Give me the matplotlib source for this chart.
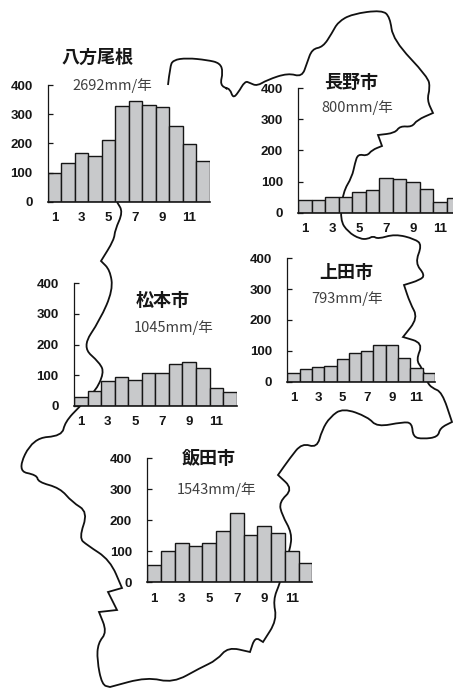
#!/usr/bin/env python3
"""Monthly rainfall bars for five Nagano stations, laid over the prefecture outline."""

import matplotlib
matplotlib.use('Agg')
import matplotlib.pyplot as plt
from matplotlib.patches import PathPatch
from matplotlib.path import Path

W, H = 453, 688
DPI = 100

MONTHS = list(range(1, 13))
MONTH_TICKS = [1, 3, 5, 7, 9, 11]
RAIN_TICKS = [0, 100, 200, 300, 400]

HAPPO = [99, 134, 168, 155, 210, 328, 346, 330, 323, 259, 198, 140]
NAGANO = [40, 40, 50, 49, 65, 72, 110, 107, 100, 75, 35, 46]
MATSUMOTO = [29, 47, 80, 95, 83, 108, 108, 137, 144, 123, 58, 46]
UEDA = [29, 40, 49, 52, 72, 94, 98, 120, 120, 77, 43, 29]
IIDA = [57, 100, 126, 118, 126, 165, 223, 151, 183, 158, 100, 61]

# outline traced in image pixels, one stroke (it breaks where it runs under the Happo chart)
OUTLINE_X = [168, 170, 173, 187, 207, 220, 223, 220, 228, 225, 230, 233, 238, 245, 250, 257, 267, 288, 302,
             307, 312, 323, 332, 338, 352, 382, 390, 393, 428, 430, 427, 433, 417, 412, 400, 395, 378, 382,
             372, 367, 358, 355, 352, 343, 340, 348, 360, 368, 373, 378, 395, 415, 422, 415, 425, 420, 404,
             410, 418, 403, 423, 416, 422, 427, 432, 442, 452, 440, 438, 423, 413, 412, 403, 377, 368, 343,
             330, 322, 317, 302, 290, 278, 293, 279, 282, 292, 290, 280, 273, 277, 263, 255, 250, 228, 217,
             200, 173, 147, 110, 102, 97, 98, 107, 99, 117, 108, 122, 110, 87, 79, 88, 72, 60, 38, 37, 17,
             33, 62, 65, 80, 95, 104, 100, 82, 100, 113, 110, 101, 114, 115, 123, 117]
OUTLINE_Y = [85, 67, 60, 58, 60, 63, 72, 85, 89, 88, 89, 98, 93, 81, 83, 86, 80, 73, 77,
             63, 49, 47, 33, 22, 14, 10, 17, 40, 77, 88, 100, 113, 120, 127, 126, 133, 135, 146,
             150, 156, 154, 163, 177, 192, 220, 232, 239, 239, 236, 239, 234, 239, 245, 263, 275, 280, 285,
             303, 318, 337, 343, 360, 368, 382, 388, 392, 422, 428, 437, 439, 437, 423, 422, 427, 417, 408,
             417, 430, 448, 443, 458, 475, 489, 502, 515, 533, 550, 583, 600, 620, 642, 637, 652, 647, 660,
             668, 683, 677, 687, 685, 660, 643, 632, 612, 610, 592, 588, 560, 545, 538, 512, 502, 488, 482, 475, 471,
             438, 436, 422, 406, 392, 373, 363, 347, 320, 290, 270, 261, 240, 230, 212, 202]
# points where the border kinks instead of curving
OUTLINE_KINKS = {(433, 113), (378, 135), (382, 146), (404, 285), (403, 337), (101, 261), (122, 588), (108, 592),
                 (278, 475), (263, 642), (452, 422), (99, 612), (117, 610), (250, 652), (110, 687)}

BAR = '#C8C9CB'
INK = '#161616'
NOTE = '#404040'
CJK = ['Noto Sans CJK JP', 'DejaVu Sans']
TICK_FONT = 'Liberation Sans'


def px_rect(left, right, y400, y0):
    """Pixel box to figure fractions."""
    return [left / W, 1 - y0 / H, (right - left) / W, (y0 - y400) / H]


def draw_outline(fig):
    ax = fig.add_axes([0, 0, 1, 1], zorder=0)
    ax.set_xlim(0, W)
    ax.set_ylim(H, 0)
    ax.axis('off')
    pts = []
    for p in zip(OUTLINE_X, OUTLINE_Y):
        pts.append(p)
        if p in OUTLINE_KINKS:
            pts.append(p)
    # quadratic curve through the midpoints, so the trace reads as a hand drawn border
    verts = [pts[0]]
    codes = [Path.MOVETO]
    for a, b in zip(pts[1:-1], pts[2:]):
        verts += [a, ((a[0] + b[0]) / 2, (a[1] + b[1]) / 2)]
        codes += [Path.CURVE3, Path.CURVE3]
    verts.append(pts[-1])
    codes.append(Path.LINETO)
    ax.add_patch(PathPatch(Path(verts, codes), fill=False, edgecolor='#111111', lw=1.3))


def rain_chart(fig, box, values):
    ax = fig.add_axes(px_rect(*box), zorder=2)
    ax.patch.set_alpha(0)
    ax.bar(MONTHS, values, width=1.0, color=BAR, edgecolor=INK, linewidth=1.0)
    ax.set_xlim(0.5, 12.5)
    ax.set_ylim(0, 400)
    ax.set_yticks(RAIN_TICKS)
    ax.set_xticks(MONTH_TICKS)
    ax.spines['top'].set_visible(False)
    ax.spines['right'].set_visible(False)
    ax.spines['left'].set_color(INK)
    ax.spines['bottom'].set_color(INK)
    ax.spines['left'].set_linewidth(0.9)
    ax.spines['bottom'].set_linewidth(1.2)
    ax.tick_params(axis='y', direction='in', length=3.5, width=0.9, pad=11, color=INK)
    ax.tick_params(axis='x', length=0, pad=7.5)
    for lab in ax.get_xticklabels() + ax.get_yticklabels():
        lab.set_fontfamily(TICK_FONT)
        lab.set_fontweight('bold')
        lab.set_fontsize(9.5)
        lab.set_color(INK)
    return ax


def label(fig, name, name_xy, total, total_xy):
    """Station name and yearly total, centred on pixel positions."""
    fig.text(name_xy[0] / W, 1 - name_xy[1] / H, name, family=CJK, fontsize=13, fontweight='bold',
             color=INK, ha='center', va='center', zorder=5)
    fig.text(total_xy[0] / W, 1 - total_xy[1] / H, total, family=CJK, fontsize=10.5,
             color=NOTE, ha='center', va='center', zorder=5)


def main():
    fig = plt.figure(figsize=(W / DPI, H / DPI), dpi=DPI, facecolor='white')
    draw_outline(fig)

    rain_chart(fig, (48, 209.7, 85, 201.7), HAPPO)
    rain_chart(fig, (298.3, 460.3, 88.3, 212.7), NAGANO)
    rain_chart(fig, (74, 236.7, 283.3, 405.7), MATSUMOTO)
    rain_chart(fig, (287.3, 435, 258.3, 381.7), UEDA)
    rain_chart(fig, (147.3, 312.3, 458.3, 582.3), IIDA)

    label(fig, '八方尾根', (98, 57), '2692mm/年', (112, 86))
    label(fig, '長野市', (351, 82), '800mm/年', (357, 108))
    label(fig, '松本市', (163, 300), '1045mm/年', (174, 328))
    label(fig, '上田市', (346, 272), '793mm/年', (347, 299))
    label(fig, '飯田市', (209, 458), '1543mm/年', (217, 490))

    fig.savefig('out.png', dpi=DPI, facecolor='white')
    plt.close(fig)


if __name__ == '__main__':
    main()
